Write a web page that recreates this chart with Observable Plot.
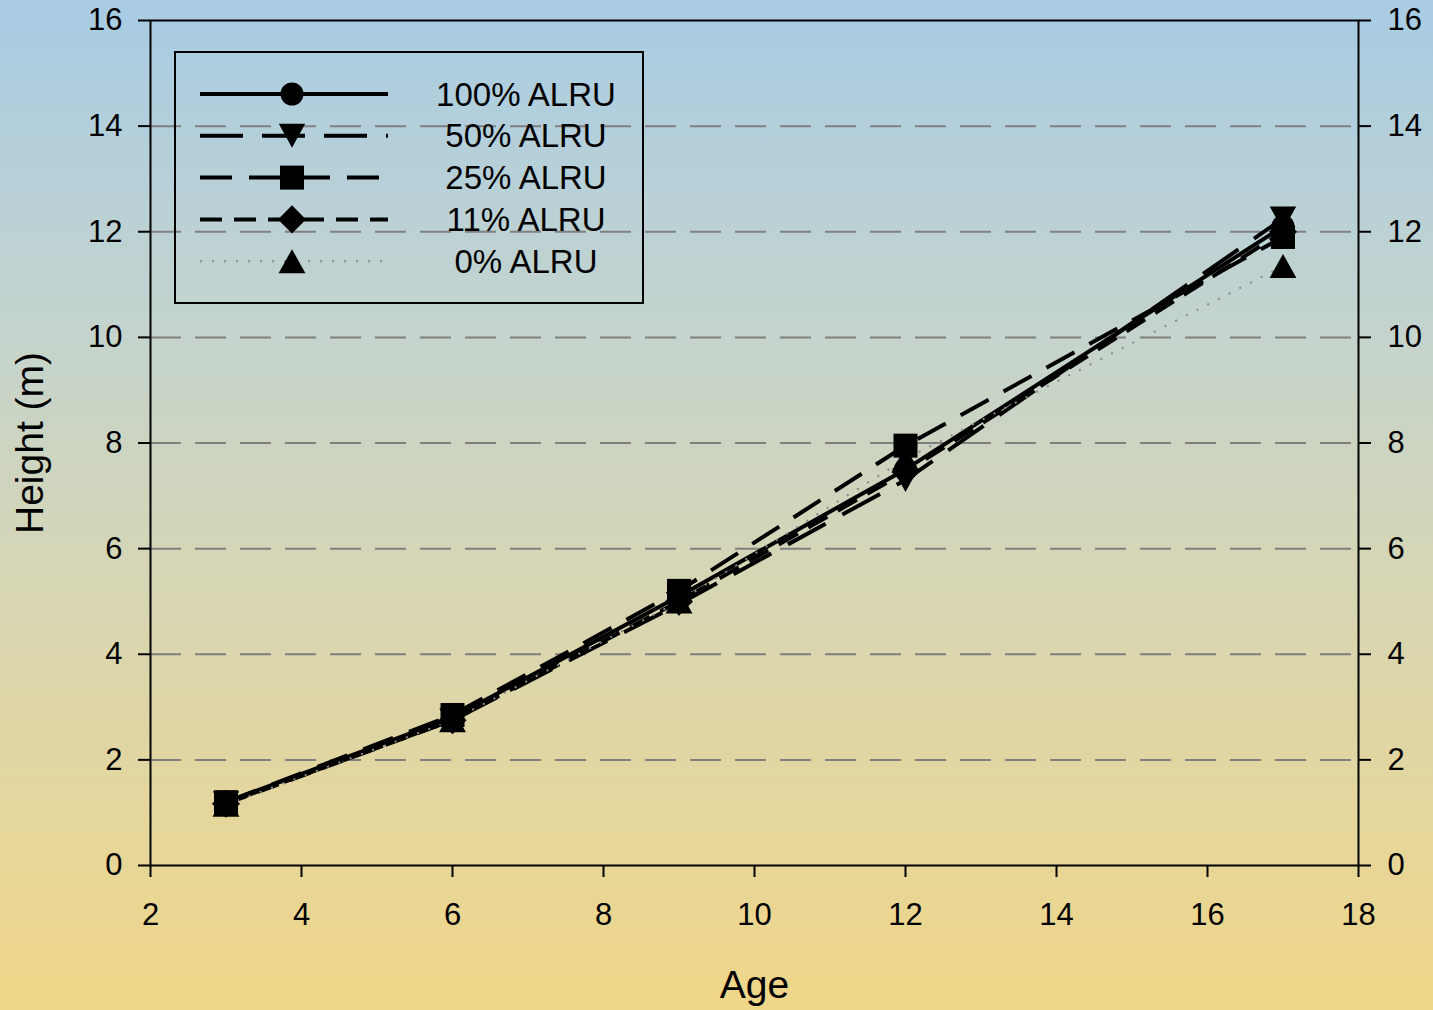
<!DOCTYPE html>
<html>
<head>
<meta charset="utf-8">
<script src="https://cdn.jsdelivr.net/npm/d3@7"></script>
<script src="https://cdn.jsdelivr.net/npm/@observablehq/plot@0.6"></script>
<style>
  html, body { margin: 0; padding: 0; }
  body {
    width: 1433px; height: 1010px; overflow: hidden;
    background: linear-gradient(to bottom, #a8cce4 0%, #c2d3cf 30%, #d8d6b2 60%, #f0d688 100%);
    font-family: "Liberation Sans", Arial, sans-serif;
  }
  #chart { position: relative; width: 1433px; height: 1010px; }
  #chart svg { position: absolute; left: 0; top: 0; }
</style>
</head>
<body>
<div id="chart"></div>
<script>
// Tree height by stand age for each red alder (ALRU) proportion
const ages = [3, 6, 9, 12, 17];
const series = ["100% ALRU", "50% ALRU", "25% ALRU", "11% ALRU", "0% ALRU"];
const h100 = [1.20, 2.80, 5.10, 7.50, 12.10];
const h50  = [1.18, 2.75, 4.95, 7.30, 12.25];
const h25  = [1.20, 2.85, 5.20, 7.95, 11.90];
const h11  = [1.17, 2.75, 5.00, 7.45, 12.00];
const h0   = [1.15, 2.75, 5.00, 7.70, 11.35];
const xTicks = [2, 4, 6, 8, 10, 12, 14, 16, 18];
const yTicks = [0, 2, 4, 6, 8, 10, 12, 14, 16];
const gridValues = [2, 4, 6, 8, 10, 12, 14];

const heights = [h100, h50, h25, h11, h0];

// Marker shapes (size = r² π as passed by Plot / d3.symbol)
const rad = size => Math.sqrt(size / Math.PI);
const symCircle = {draw(c, s) { const r = rad(s) * 0.96; c.moveTo(r, 0); c.arc(0, 0, r, 0, 2 * Math.PI); }};
const symTriDown = {draw(c, s) { const r = rad(s); c.moveTo(-1.1 * r, -r); c.lineTo(1.1 * r, -r); c.lineTo(0, r); c.closePath(); }};
const symSquare = {draw(c, s) { const r = rad(s); c.rect(-r, -r, 2 * r, 2 * r); }};
const symDiamond = {draw(c, s) { const r = rad(s) * 1.17; c.moveTo(0, -r); c.lineTo(r, 0); c.lineTo(0, r); c.lineTo(-r, 0); c.closePath(); }};
const symTriUp = {draw(c, s) { const r = rad(s); c.moveTo(0, -r); c.lineTo(1.12 * r, r); c.lineTo(-1.12 * r, r); c.closePath(); }};

const styles = [
  {symbol: symCircle,  stroke: "#000", strokeWidth: 4, dash: null},
  {symbol: symTriDown, stroke: "#000", strokeWidth: 4, dash: "43,19"},
  {symbol: symSquare,  stroke: "#000", strokeWidth: 4, dash: "32,17"},
  {symbol: symDiamond, stroke: "#000", strokeWidth: 4, dash: "22,12"},
  {symbol: symTriUp,   stroke: "#888", strokeWidth: 2, dash: "2,10"}
];

const records = series.flatMap((name, i) => ages.map((age, j) => ({series: name, age, height: heights[i][j]})));

const font = '"Liberation Sans", Arial, sans-serif';

const lineMarks = series.map((name, i) => Plot.line(records.filter(d => d.series === name), {
  x: "age", y: "height",
  stroke: styles[i].stroke, strokeWidth: styles[i].strokeWidth,
  strokeDasharray: styles[i].dash, strokeLinecap: "butt", strokeLinejoin: "miter"
}));

const dotMarks = series.map((name, i) => Plot.dot(records.filter(d => d.series === name), {
  x: "age", y: "height", r: 12, symbol: styles[i].symbol, fill: "#000", stroke: "none"
}));

const chart = Plot.plot({
  width: 1433,
  height: 1010,
  marginLeft: 150,
  marginRight: 75,
  marginTop: 20,
  marginBottom: 145,
  style: {background: "transparent", fontFamily: font, fontSize: "31px", color: "#000", overflow: "visible"},
  x: {domain: [2, 18]},
  y: {domain: [0, 16]},
  marks: [
    Plot.ruleY(gridValues, {stroke: "#808080", strokeWidth: 2, strokeDasharray: "31,14"}),
    Plot.frame({stroke: "#000", strokeWidth: 2}),
    Plot.axisX({ticks: xTicks, tickSize: 12, tickPadding: 25, strokeWidth: 2, label: null, fontSize: 31}),
    Plot.axisY({anchor: "left", ticks: yTicks, tickSize: 12, tickPadding: 16, strokeWidth: 2, label: null, fontSize: 31}),
    Plot.axisY({anchor: "right", ticks: yTicks, tickSize: 12, tickPadding: 17, strokeWidth: 2, label: null, fontSize: 31}),
    ...lineMarks,
    ...dotMarks,
    Plot.text(["Height (m)"], {frameAnchor: "left", dx: -120, rotate: -90, fontSize: 39, fill: "#000", lineAnchor: "middle", textAnchor: "middle"}),
    Plot.text(["Age"], {frameAnchor: "bottom", dy: 120, fontSize: 39, fill: "#000", lineAnchor: "middle", textAnchor: "middle"})
  ]
});
document.getElementById("chart").appendChild(chart);

// Legend box inside the plot area
const legend = d3.create("svg")
  .attr("width", 472).attr("height", 256)
  .style("left", "173px").style("top", "50px")
  .style("overflow", "visible");
legend.append("rect")
  .attr("x", 2).attr("y", 2).attr("width", 468).attr("height", 251)
  .attr("fill", "none").attr("stroke", "#000").attr("stroke-width", 2);
series.forEach((name, i) => {
  const cy = 44 + i * 41.8;
  const g = legend.append("g");
  g.append("line")
    .attr("x1", 27).attr("x2", 215).attr("y1", cy).attr("y2", cy)
    .attr("stroke", styles[i].stroke).attr("stroke-width", styles[i].strokeWidth)
    .attr("stroke-dasharray", styles[i].dash);
  g.append("path")
    .attr("transform", `translate(119,${cy})`)
    .attr("d", d3.symbol(styles[i].symbol, 12 * 12 * Math.PI)())
    .attr("fill", "#000");
  g.append("text")
    .attr("x", 353).attr("y", cy).attr("dy", "0.35em")
    .attr("text-anchor", "middle")
    .attr("font-family", font).attr("font-size", 33)
    .text(name);
});
document.getElementById("chart").appendChild(legend.node());
</script>
</body>
</html>
